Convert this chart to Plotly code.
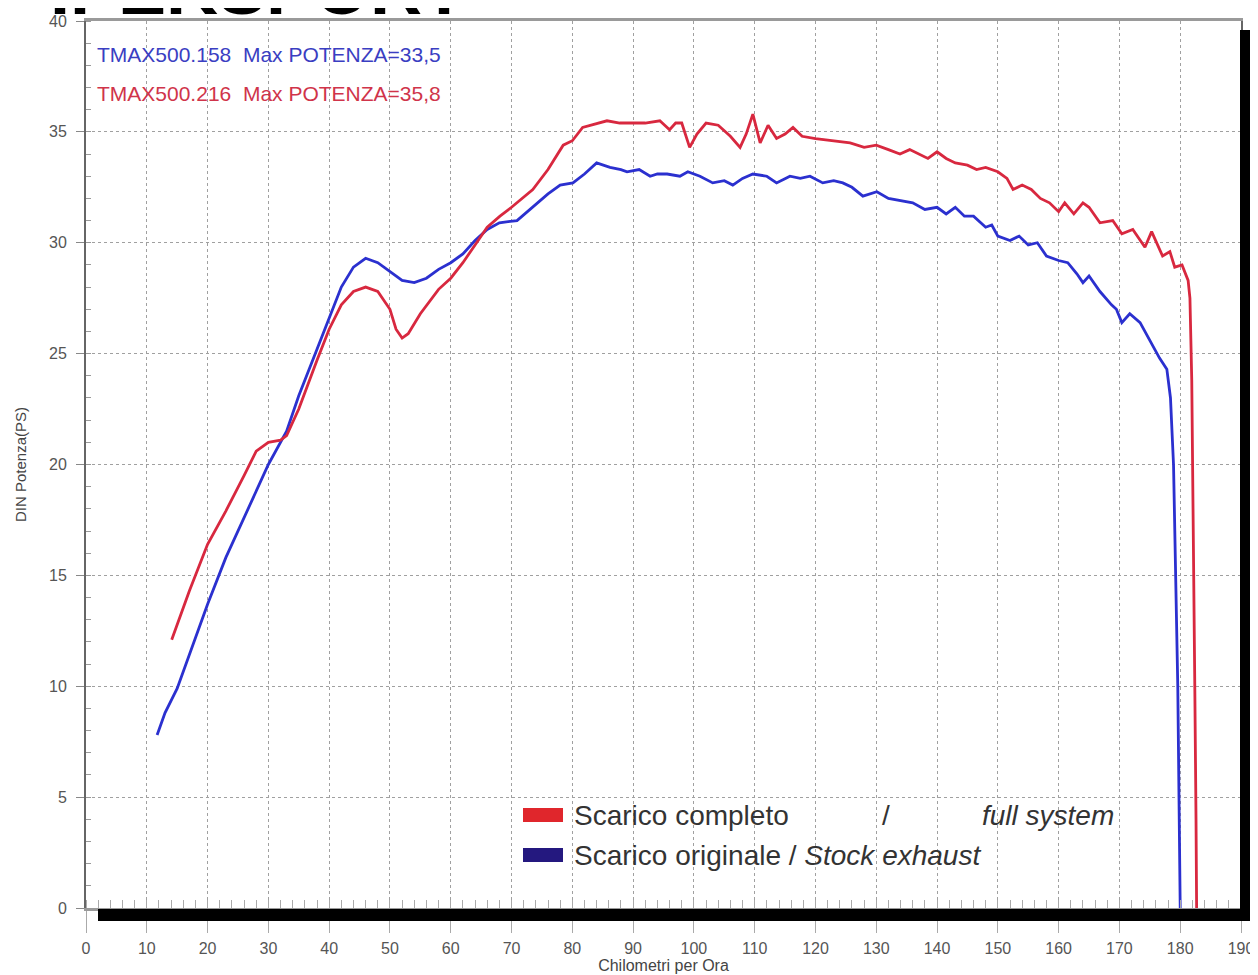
import plotly.graph_objects as go

# ---- data ----
stock_kmh = [11.7, 13, 15, 17, 20, 23, 25, 28, 30, 33, 35, 38, 40, 42, 44, 46, 48, 50, 52, 54,
             56, 58, 60, 62, 64, 66, 68, 70.9, 73.5, 76, 78, 80.1, 82, 84, 86.2, 88, 89, 91,
             92.8, 94, 95.6, 97.7, 99, 101, 103.1, 105, 106.4, 108, 109.7, 112, 113.6, 115.8,
             117.5, 119.1, 121.2, 123, 124.5, 126, 127.8, 130.1, 132, 133.9, 136, 138, 140,
             141.5, 143, 144.5, 146, 148, 149, 150, 152, 153.5, 155, 156.5, 158, 160, 161.5,
             163, 164, 165, 166.8, 168.7, 169.5, 170.4, 171.7, 173.4, 175, 176.6, 177.8,
             178.4, 178.9, 179.3, 179.6, 179.8, 180.0]
stock_ps = [7.8, 8.8, 9.9, 11.4, 13.7, 15.8, 17.0, 18.8, 20.0, 21.5, 23.1, 25.2, 26.6, 28.0,
            28.9, 29.3, 29.1, 28.7, 28.3, 28.2, 28.4, 28.8, 29.1, 29.5, 30.1, 30.6, 30.9, 31.0,
            31.6, 32.2, 32.6, 32.7, 33.1, 33.6, 33.4, 33.3, 33.2, 33.3, 33.0, 33.1, 33.1, 33.0,
            33.2, 33.0, 32.7, 32.8, 32.6, 32.9, 33.1, 33.0, 32.7, 33.0, 32.9, 33.0, 32.7, 32.8,
            32.7, 32.5, 32.1, 32.3, 32.0, 31.9, 31.8, 31.5, 31.6, 31.3, 31.6, 31.2, 31.2, 30.7,
            30.8, 30.3, 30.1, 30.3, 29.9, 30.0, 29.4, 29.2, 29.1, 28.6, 28.2, 28.5, 27.8, 27.2,
            27.0, 26.4, 26.8, 26.4, 25.6, 24.8, 24.3, 23.0, 20.0, 15.0, 10.0, 5.0, 0.0]

full_kmh = [14.1, 17, 20, 23, 26, 28, 30, 32, 33, 35, 38, 40, 42, 44, 46, 48, 50, 51, 52, 53,
            55, 58, 60, 62, 64, 66, 68.1, 70, 73.5, 76, 78.5, 80, 81.7, 83, 85.7, 87.8, 90, 92,
            94.4, 96, 97, 98, 99.3, 100.5, 102, 104, 106, 107.6, 108.6, 109.7, 110.9, 112.2,
            113.6, 115, 116.3, 117.8, 120, 122.9, 125.7, 128, 130, 132, 133.9, 135.5, 137,
            138.5, 140, 141.5, 143, 145, 146.5, 148, 150, 151.5, 152.5, 154, 155.5, 157, 158.5,
            160, 161, 162.5, 164, 165, 166.8, 168.9, 170.4, 172.2, 174.2, 175.3, 177.1, 178.3,
            179.1, 180.3, 181.3, 181.6, 181.9, 182.2, 182.4, 182.6, 182.7]
full_ps = [12.1, 14.3, 16.4, 17.9, 19.5, 20.6, 21.0, 21.1, 21.3, 22.5, 24.7, 26.1, 27.2, 27.8,
           28.0, 27.8, 27.0, 26.1, 25.7, 25.9, 26.8, 27.9, 28.4, 29.1, 29.9, 30.7, 31.2, 31.6,
           32.4, 33.3, 34.4, 34.6, 35.2, 35.3, 35.5, 35.4, 35.4, 35.4, 35.5, 35.1, 35.4, 35.4,
           34.3, 34.9, 35.4, 35.3, 34.8, 34.3, 34.9, 35.8, 34.5, 35.3, 34.7, 34.9, 35.2, 34.8,
           34.7, 34.6, 34.5, 34.3, 34.4, 34.2, 34.0, 34.2, 34.0, 33.8, 34.1, 33.8, 33.6, 33.5,
           33.3, 33.4, 33.2, 32.9, 32.4, 32.6, 32.4, 32.0, 31.8, 31.4, 31.8, 31.3, 31.8, 31.6,
           30.9, 31.0, 30.4, 30.6, 29.8, 30.5, 29.4, 29.6, 28.9, 29.0, 28.3, 27.5, 23.8, 17.0,
           10.0, 4.0, 0.0]

x_ticks = list(range(0, 200, 10))
y_ticks = list(range(0, 45, 5))

RED = "#d8283f"
BLUE = "#2b30cf"

fig = go.Figure()
fig.add_trace(go.Scatter(x=stock_kmh, y=stock_ps, mode="lines",
                         line=dict(color=BLUE, width=2.8), name="Scarico originale"))
fig.add_trace(go.Scatter(x=full_kmh, y=full_ps, mode="lines",
                         line=dict(color=RED, width=2.8), name="Scarico completo"))

tickfont = dict(family="Liberation Sans, Arial", size=16, color="#555555")

# page has an 8px body margin: figure occupies page px 8..1258 x 8..975
fig.update_layout(
    width=1250, height=967,
    margin=dict(l=78, r=17, t=13, b=67, autoexpand=False),
    paper_bgcolor="white", plot_bgcolor="white",
    showlegend=False,
    xaxis=dict(range=[0, 190], tickvals=x_ticks, ticktext=[str(v) for v in x_ticks],
               automargin=False,
               showgrid=True, gridcolor="#a0a0a0", griddash="dot", gridwidth=1,
               showline=True, linecolor="#9a9a9a", linewidth=3, mirror=True,
               ticks="outside", ticklen=22, tickcolor="#aaaaaa", ticklabelstandoff=2,
               tickfont=tickfont, zeroline=False,
               minor=dict(dtick=2, ticks="inside", ticklen=8, tickcolor="#aaaaaa", showgrid=False),
               title=dict(text="Chilometri per Ora", standoff=4,
                          font=dict(family="Liberation Sans, Arial", size=16, color="#444444"))),
    yaxis=dict(range=[0, 40], tickvals=y_ticks, ticktext=[str(v) for v in y_ticks],
               automargin=False,
               showgrid=True, gridcolor="#a0a0a0", griddash="dot", gridwidth=1,
               showline=True, linecolor="#666666", linewidth=2, mirror=True,
               ticks="outside", ticklen=8, tickcolor="#888888", ticklabelstandoff=6,
               tickfont=tickfont, zeroline=False,
               minor=dict(dtick=1, ticks="inside", ticklen=5, tickcolor="#999999", showgrid=False),
               title=dict(text="DIN Potenza(PS)", standoff=19,
                          font=dict(family="Liberation Sans, Arial", size=15, color="#444444"))),
)


def px_x(p):
    return (p - 86) / 1155


def px_y(p):
    return (908 - p) / 887


# drop-shadow frame (black bars to the right and bottom of the plot)
fig.add_shape(type="rect", xref="paper", yref="paper", x0=px_x(1240), x1=px_x(1253),
              y0=px_y(921), y1=px_y(30), fillcolor="black", line=dict(width=0), layer="above")
fig.add_shape(type="rect", xref="paper", yref="paper", x0=px_x(98), x1=px_x(1253),
              y0=px_y(921), y1=px_y(909), fillcolor="black", line=dict(width=0), layer="above")

# legend drawn as swatches + text
fig.add_shape(type="rect", xref="paper", yref="paper",
              x0=px_x(523), x1=px_x(563), y0=px_y(822), y1=px_y(808),
              fillcolor="#e0262c", line=dict(width=0))
fig.add_shape(type="rect", xref="paper", yref="paper",
              x0=px_x(523), x1=px_x(563), y0=px_y(862), y1=px_y(848),
              fillcolor="#24187f", line=dict(width=0))

legfont = dict(family="Liberation Sans, Arial", size=28, color="#333333")

anns = [
    dict(text="Scarico completo", x=px_x(572), y=px_y(815)),
    dict(text="/", x=px_x(880), y=px_y(815)),
    dict(text="<i>full system</i>", x=px_x(980), y=px_y(815)),
    dict(text="Scarico originale / <i>Stock exhaust</i>", x=px_x(572), y=px_y(855)),
]
for a in anns:
    fig.add_annotation(xref="paper", yref="paper", xanchor="left", yanchor="middle",
                       showarrow=False, font=legfont, **a)

fig.add_annotation(xref="paper", yref="paper", xanchor="left", yanchor="middle",
                   x=px_x(95), y=px_y(55), showarrow=False,
                   text="TMAX500.158  Max POTENZA=33,5",
                   font=dict(family="Liberation Sans, Arial", size=21, color="#3a3ec2"))
fig.add_annotation(xref="paper", yref="paper", xanchor="left", yanchor="middle",
                   x=px_x(95), y=px_y(94), showarrow=False,
                   text="TMAX500.216  Max POTENZA=35,8",
                   font=dict(family="Liberation Sans, Arial", size=21, color="#d0344a"))

# cropped heading at the very top of the image
fig.add_annotation(xref="paper", yref="paper", xanchor="left", yanchor="bottom",
                   x=px_x(48), y=px_y(31), showarrow=False,
                   text="<b>IPEKSPORT</b>",
                   font=dict(family="Liberation Sans, Arial", size=72, color="black"))

fig.write_html("out.html")
